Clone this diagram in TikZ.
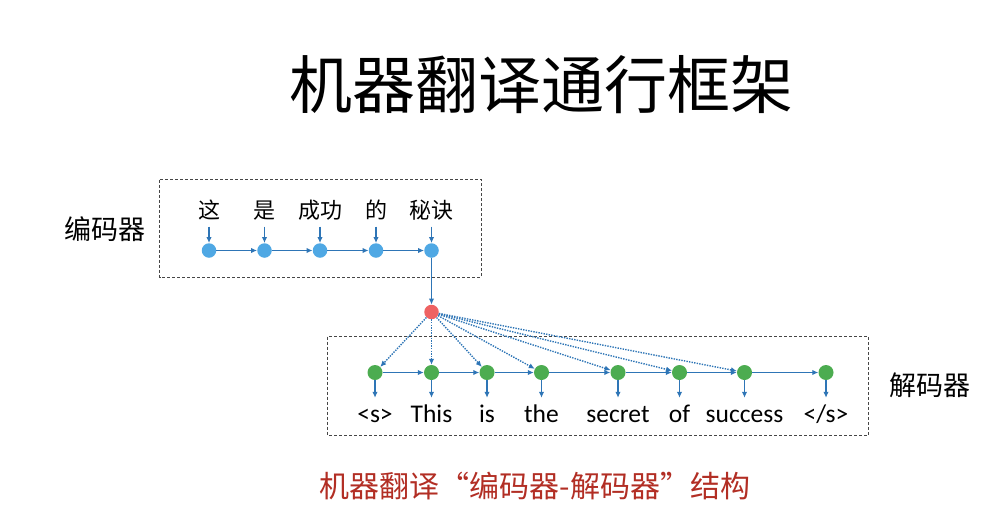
\documentclass[tikz,border=0pt]{standalone}
\usepackage{fontspec}
\setmainfont{Carlito}
\newfontfamily\cjk{Noto Sans CJK SC}
\usetikzlibrary{arrows.meta}
\definecolor{lineblue}{RGB}{46,117,182}
\definecolor{encblue}{RGB}{79,168,228}
\definecolor{decgreen}{RGB}{76,172,80}
\definecolor{attred}{RGB}{238,98,98}
\definecolor{boxgray}{RGB}{70,70,70}
\definecolor{captionred}{RGB}{178,46,36}
\begin{document}
\begin{tikzpicture}[x=1pt,y=-1pt,>={Latex[length=6pt,width=5.5pt]},
	enc/.style={circle,fill=encblue,minimum size=14.5pt,inner sep=0pt},
	dec/.style={circle,fill=decgreen,minimum size=15pt,inner sep=0pt},
	att/.style={circle,fill=attred,minimum size=14.5pt,inner sep=0pt},
	link/.style={->,lineblue,line width=1.4pt},
	attlink/.style={->,lineblue,line width=1.4pt,dash pattern=on 1.4pt off 1.2pt},
	box/.style={draw=boxgray,line width=1pt,dash pattern=on 3pt off 2pt},
	srcword/.style={font=\cjk\fontsize{22}{22}\selectfont,anchor=base,text depth=5pt,inner xsep=0pt,inner ysep=3.5pt},
	tgtword/.style={font=\fontsize{25.5}{25.5}\selectfont,anchor=base,text height=20pt,text depth=5pt,inner xsep=0pt,inner ysep=4pt}]
	\useasboundingbox (0,0) rectangle (1000,525);
	\node (title) at (541,85) {\cjk\fontsize{63}{63}\selectfont 机器翻译通行框架};
	% encoder
	\draw[box] (159.5,179.5) rectangle (481,277);
	\node (enclabel) at (105,229) {\cjk\fontsize{27}{27}\selectfont 编码器};
	\foreach \i/\x/\w in {1/209/这,2/264.5/是,3/320/成功,4/376/的,5/431.5/秘诀}{
		\node[enc] (e\i) at (\x,250.5) {};
		\node[srcword] (s\i) at (\x,218) {\w};
		\draw[link] (s\i) -- (e\i);
	}
	\foreach \i [count=\j from 2] in {1,...,4} \draw[link] (e\i) -- (e\j);
	\node[att] (a) at (431.5,312) {};
	\draw[link] (e5) -- (a);
	% decoder
	\draw[box] (327.5,336.5) rectangle (868.5,435);
	\node (declabel) at (930,385) {\cjk\fontsize{27}{27}\selectfont 解码器};
	\foreach \i/\x/\w in {1/375/{<s>},2/431.5/This,3/487/is,4/541.5/the,5/618/secret,6/679.5/of,7/744.5/success,8/826/{</s>}}{
		\node[dec] (g\i) at (\x,372.5) {};
		\node[tgtword] (t\i) at (\x,422) {\w};
		\draw[link] (g\i) -- (t\i);
	}
	\foreach \i [count=\j from 2] in {1,...,7} \draw[link] (g\i) -- (g\j);
	\foreach \i in {1,...,7} \draw[attlink] (a) -- (g\i);
	\node (caption) at (535,486) {\cjk\fontsize{30}{30}\selectfont\color{captionred}机器翻译“编码器-解码器”结构};
\end{tikzpicture}
\end{document}
